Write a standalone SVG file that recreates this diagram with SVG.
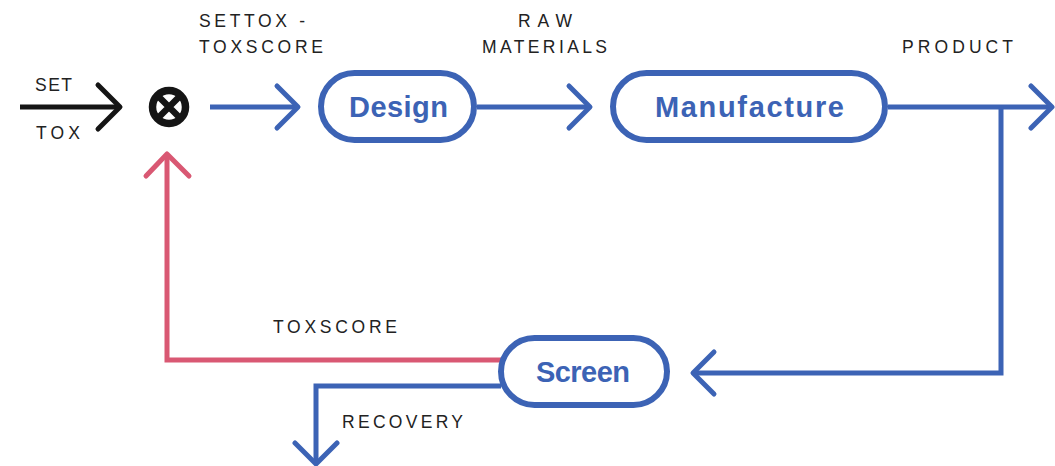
<svg xmlns="http://www.w3.org/2000/svg" width="1055" height="466" viewBox="0 0 1055 466">
  <style>
    .bg { fill: #ffffff; }
    .pill { fill: #ffffff; stroke: #3c63b5; stroke-width: 6; }
    .node-label { font-family: "Liberation Sans", Arial, sans-serif; font-weight: bold; font-size: 29px; fill: #3c63b5; }
    .edge-label { font-family: "Liberation Sans", Arial, sans-serif; font-size: 17.5px; fill: #222222; }
    .wire { fill: none; stroke-width: 5; stroke-linejoin: miter; }
    .head { fill: none; stroke-width: 5; stroke-linecap: round; stroke-linejoin: round; }
    .blue { stroke: #3c63b5; }
    .red { stroke: #d95873; }
    .black { stroke: #151515; }
  </style>

  <rect class="bg" x="0" y="0" width="1055" height="466"/>

  <!-- connectors -->
  <g id="connectors">
    <!-- set point input -->
    <path class="wire black" d="M20 107 H120"/>
    <path class="head black" d="M98 85 L120 107 L98 129"/>

    <!-- error signal into Design -->
    <path class="wire blue" d="M210 107 H297"/>
    <path class="head blue" d="M277 86 L298 107 L277 128"/>

    <!-- raw materials -->
    <path class="wire blue" d="M477 107 H589"/>
    <path class="head blue" d="M569 86 L590 107 L569 128"/>

    <!-- product out -->
    <path class="wire blue" d="M888 107 H1051"/>
    <path class="head blue" d="M1031 86 L1052 107 L1031 128"/>

    <!-- product branch to Screen -->
    <path class="wire blue" d="M1001 107 V373 H695"/>
    <path class="head blue" d="M714 352 L693 373 L714 394"/>

    <!-- toxscore feedback -->
    <path class="wire red" d="M501 360 H167 V155"/>
    <path class="head red" d="M146 176 L167 154 L189 176"/>

    <!-- recovery -->
    <path class="wire blue" d="M501 386 H316 V463"/>
    <path class="head blue" d="M295 443 L316 464 L337 443"/>
  </g>

  <!-- summing junction -->
  <g id="junction">
    <circle cx="169" cy="107" r="16.5" fill="none" stroke="#151515" stroke-width="7.5"/>
    <path d="M157 95 L181 119 M181 95 L157 119" stroke="#151515" stroke-width="6.5" stroke-linecap="butt"/>
  </g>

  <g id="design">
    <rect class="pill" x="321" y="73" width="153" height="67" rx="33.5"/>
    <text class="node-label" x="349" y="117" textLength="99">Design</text>
  </g>

  <g id="manufacture">
    <rect class="pill" x="613" y="73" width="272" height="67" rx="33.5"/>
    <text class="node-label" x="655" y="117" textLength="189">Manufacture</text>
  </g>

  <g id="screen">
    <rect class="pill" x="501" y="338" width="166" height="67" rx="33.5"/>
    <text class="node-label" x="536" y="382" textLength="94">Screen</text>
  </g>

  <!-- edge labels -->
  <g id="labels">
    <text class="edge-label" x="35" y="91" textLength="37">SET</text>
    <text class="edge-label" x="36" y="139" textLength="44">TOX</text>
    <text class="edge-label" x="199" y="27" textLength="106">SETTOX -</text>
    <text class="edge-label" x="199" y="53" textLength="124">TOXSCORE</text>
    <text class="edge-label" x="518" y="27" textLength="54">RAW</text>
    <text class="edge-label" x="482" y="53" textLength="125">MATERIALS</text>
    <text class="edge-label" x="902" y="53" textLength="111">PRODUCT</text>
    <text class="edge-label" x="273" y="333" textLength="124">TOXSCORE</text>
    <text class="edge-label" x="342" y="428" textLength="121">RECOVERY</text>
  </g>
</svg>
